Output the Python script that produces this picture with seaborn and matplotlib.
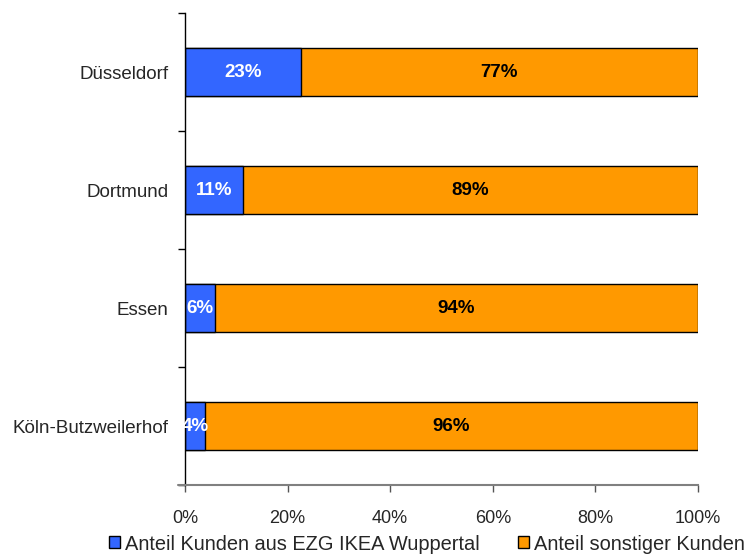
import pandas as pd
import seaborn as sns
import matplotlib.pyplot as plt
from matplotlib.patches import Patch
from matplotlib.lines import Line2D
from matplotlib.ticker import FixedLocator

standorte = ['Düsseldorf', 'Dortmund', 'Essen', 'Köln-Butzweilerhof']
anteil_ezg = [22.6, 11.3, 5.8, 3.9]
anteil_sonstige = [77.4, 88.7, 94.2, 96.1]
x_ticks = [0, 20, 40, 60, 80, 100]
legend_labels = ['Anteil Kunden aus EZG IKEA Wuppertal', 'Anteil sonstiger Kunden']

blue = '#3366FF'
orange = '#FF9900'

df = pd.DataFrame({'Standort': standorte, 'EZG': anteil_ezg, 'Sonstige': anteil_sonstige})
df['Gesamt'] = df['EZG'] + df['Sonstige']

sns.set_style('white')
plt.rcParams['font.family'] = ['Liberation Sans', 'DejaVu Sans']

fig = plt.figure(figsize=(7.55, 5.54), dpi=100)
ax = fig.add_axes([0.245, 0.1245, 0.6795, 0.852])

sns.barplot(data=df, y='Standort', x='Gesamt', orient='h', color=orange, width=0.4,
            edgecolor='black', linewidth=1, saturation=1, ax=ax)
sns.barplot(data=df, y='Standort', x='EZG', orient='h', color=blue, width=0.4,
            edgecolor='black', linewidth=1, saturation=1, ax=ax)

# labels in the bar segments
for i, row in df.iterrows():
    ax.text(row['EZG'] / 2, i, f"{row['EZG']:.0f}%", ha='center', va='center',
            color='white', fontsize=13.5, fontweight='bold')
    ax.text(row['EZG'] + row['Sonstige'] / 2, i, f"{row['Sonstige']:.0f}%", ha='center',
            va='center', color='black', fontsize=13.5, fontweight='bold')

ax.set_xlim(0, 100)
ax.set_ylim(len(standorte) - 0.5, -0.5)
ax.set_xticks(x_ticks)
ax.set_xticklabels([f'{t}%' for t in x_ticks])
ax.set_xlabel('')
ax.set_ylabel('')

ax.yaxis.set_minor_locator(FixedLocator([i - 0.5 for i in range(len(standorte) + 1)]))
ax.tick_params(axis='y', which='major', length=0, pad=12, labelsize=13.5)
ax.tick_params(axis='y', which='minor', length=5, width=1, color='black', left=True)
ax.tick_params(axis='x', which='major', length=5, width=1, color='#555555', bottom=True,
               pad=13, labelsize=13)

for s in ['top', 'right']:
    ax.spines[s].set_visible(False)
ax.spines['left'].set_color('black')
ax.spines['left'].set_linewidth(1)
ax.spines['bottom'].set_color('#808080')
ax.spines['bottom'].set_linewidth(1.5)
ax.add_line(Line2D([-0.014, 0], [0, 0], transform=ax.transAxes, color='#808080',
                   linewidth=1.5, clip_on=False))

handles = [Patch(facecolor=blue, edgecolor='black', linewidth=1),
           Patch(facecolor=orange, edgecolor='black', linewidth=1)]
fig.legend(handles, legend_labels, loc='center', bbox_to_anchor=(427 / 755, 1 - 544 / 554),
           ncol=2, frameon=False, fontsize=14.4, handlelength=0.55, handleheight=0.55,
           handletextpad=0.25, columnspacing=1.9, borderpad=0, borderaxespad=0)

fig.savefig('out.png', dpi=100)
